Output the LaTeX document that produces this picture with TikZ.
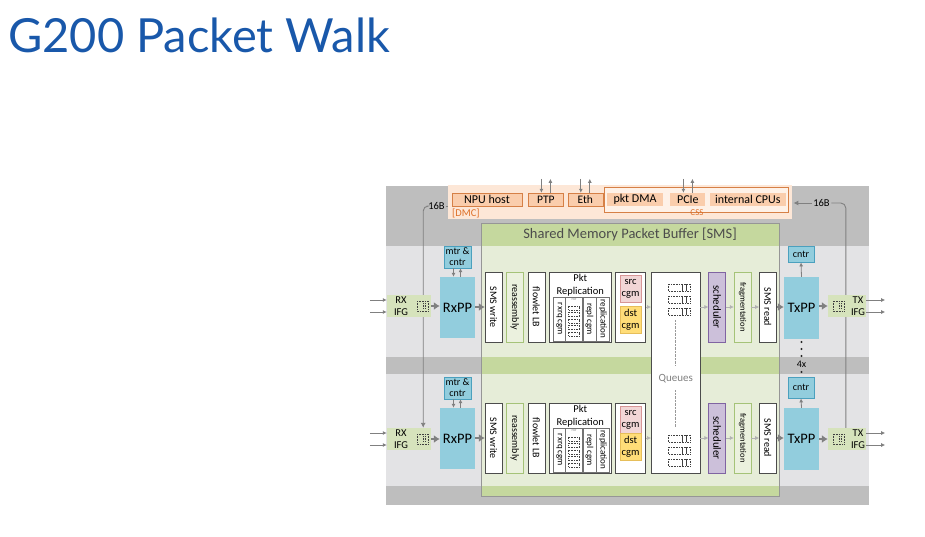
\documentclass[tikz,border=0pt]{standalone}
\usepackage{fontspec}
\setmainfont{Carlito}
\newfontfamily\titlefont{Lato}
\usepackage{graphicx}
\usetikzlibrary{arrows.meta,positioning,calc,backgrounds}

\definecolor{titleblue}{RGB}{25,88,170}
\definecolor{bandgray}{RGB}{190,190,190}
\definecolor{rowgray}{RGB}{227,227,229}
\definecolor{smshead}{RGB}{197,216,158}
\definecolor{smsbody}{RGB}{230,237,216}
\definecolor{smsline}{RGB}{150,150,150}
\definecolor{dmcfill}{RGB}{253,231,215}
\definecolor{orfill}{RGB}{250,205,172}
\definecolor{orline}{RGB}{214,128,70}
\definecolor{ortext}{RGB}{222,112,40}
\definecolor{ppblue}{RGB}{146,205,221}
\definecolor{ppline}{RGB}{75,160,190}
\definecolor{ifggreen}{RGB}{214,227,188}
\definecolor{pinkfill}{RGB}{242,214,214}
\definecolor{pinkline}{RGB}{215,150,150}
\definecolor{yellowfill}{RGB}{255,221,120}
\definecolor{yellowline}{RGB}{230,190,90}
\definecolor{lavfill}{RGB}{204,192,218}
\definecolor{lavline}{RGB}{128,100,162}
\definecolor{palefill}{RGB}{235,241,222}
\definecolor{paleline}{RGB}{165,195,120}
\definecolor{flowgray}{RGB}{128,128,128}

\tikzset{
    orbox/.style={
        rectangle,
        draw=orline,
        fill=orfill,
        minimum height=13pt,
        font=\fontsize{11.5}{13}\selectfont
    },
    orinner/.style={
        rectangle,
        fill=orfill,
        minimum height=13pt,
        font=\fontsize{12}{13}\selectfont
    },
    ppbox/.style={
        rectangle,
        fill=ppblue,
        minimum width=35pt,
        font=\fontsize{14.5}{16}\selectfont
    },
    ctrbox/.style={
        rectangle,
        draw=ppline,
        fill=ppblue,
        align=center,
        font=\fontsize{10}{11}\selectfont
    },
    ifg/.style={
        rectangle,
        fill=ifggreen,
        minimum height=22pt
    },
    ifgtext/.style={
        align=center,
        font=\fontsize{10.5}{12}\selectfont
    },
    unit/.style={
        rectangle,
        draw=black!70,
        fill=white,
        minimum width=17pt,
        minimum height=70pt,
        font=\fontsize{10}{12}\selectfont
    },
    paleunit/.style={draw=paleline, fill=palefill},
    schedunit/.style={draw=lavline, fill=lavfill, font=\fontsize{11}{12}\selectfont},
    col/.style={
        rectangle,
        draw=black!55,
        fill=white,
        minimum height=44pt,
        font=\fontsize{9}{10}\selectfont
    },
    cgmbox/.style={
        rectangle,
        minimum width=21pt,
        minimum height=27pt,
        align=center,
        font=\fontsize{10.5}{12}\selectfont
    },
    flow/.style={
        -{Latex[length=6pt,width=8pt]},
        line width=2.4pt,
        draw=flowgray
    },
    thinflow/.style={
        -{Latex[length=4pt,width=4pt]},
        line width=0.6pt,
        draw=black!30
    },
    tick/.style={
        -{Latex[length=4pt,width=4pt]},
        line width=0.8pt,
        draw=flowgray
    },
    bus/.style={
        line width=0.9pt,
        draw=flowgray,
        rounded corners=5pt
    },
    qdot/.style={
        draw=black!75,
        densely dotted,
        line width=0.6pt
    }
}

\begin{document}
\begin{tikzpicture}[x=1pt, y=-1pt, inner sep=0pt]
    \useasboundingbox (0,0) rectangle (925,536);

    % Title
    \node[anchor=base west, text=titleblue, font=\titlefont\fontsize{47}{47}\selectfont] (title) at (8,52) {G200 Packet Walk};

    % Background bands and SMS area
    \begin{pgfonlayer}{background}
        \fill[bandgray] (386,186) rectangle (869,505);
        \fill[rowgray] (386,246) rectangle (869,357);
        \fill[rowgray] (386,374) rectangle (869,486);
        \fill[smsbody] (481,223) rectangle (779,496);
        \fill[smshead] (481,223) rectangle (779,246);
        \fill[smshead] (481,357) rectangle (779,374);
        \fill[smshead] (481,486) rectangle (779,496);
        \draw[smsline] (481,223) rectangle (779,496);
    \end{pgfonlayer}
    \node[font=\fontsize{14.5}{16}\selectfont, text=black!70] (smstitle) at (630,234.5) {Shared Memory Packet Buffer [SMS]};

    % DMC / CSS strip
    \node[rectangle, fill=dmcfill, anchor=north west, minimum width=344pt, minimum height=34pt] (dmc) at (448,185) {};
    \node[orbox, minimum width=70pt, font=\fontsize{12}{13}\selectfont] (npu) at (487,199.5) {NPU host};
    \node[orbox, minimum width=35pt, right=6pt of npu] (ptp) {PTP};
    \node[orbox, minimum width=35pt, right=4pt of ptp] (eth) {Eth};
    \node[rectangle, draw=orline, fill=dmcfill!60, anchor=north west, minimum width=184pt, minimum height=25pt] (css) at (604,187) {};
    \node[orinner, minimum width=56pt] (pktdma) at (635,199.5) {pkt DMA};
    \node[orinner, minimum width=35pt, right=7pt of pktdma] (pcie) {PCIe};
    \node[orinner, minimum width=76pt, right=4pt of pcie] (cpus) {internal CPUs};
    \node[text=ortext, font=\fontsize{10.5}{12}\selectfont, anchor=west] (dmclbl) at (452,213) {[DMC]};
    \node[text=ortext, font=\fontsize{9}{10}\selectfont] (csslbl) at (697,212.5) {CSS};

    \foreach \n in {ptp,eth,pcie} {
        \draw[tick] ([xshift=-4.5pt]\n.north) ++(0,-14) -- ([xshift=-4.5pt]\n.north);
        \draw[tick] ([xshift=4.5pt]\n.north) -- ++(0,-14);
    }

    % Queues (shared by both pipes)
    \node[unit, anchor=north west, minimum width=49pt, minimum height=201pt] (queues) at (651,272) {};
    \node[font=\fontsize{11}{12}\selectfont, text=black!50] (queuestxt) at ([yshift=-5.5pt]queues.center) {Queues};
    \foreach \qy in {284,296,308,435,447,459} {
        \draw[qdot] (668,\qy) rectangle (690,\qy+7);
        \draw[black!75, line width=0.5pt] (682,\qy) -- (682,\qy+7) (686,\qy) -- (686,\qy+7);
    }
    \draw[black!40, densely dotted] (675,320) -- (675,366) (675,390) -- (675,427);

    % Pipes
    \foreach \r/\dy/\gap/\iy/\ch in {1/0/4/306/16, 2/131/0/439/21} {
        % ingress
        \node[ifg, minimum width=44pt] (rxifg\r) at (409,\iy) {};
        \node[ifgtext] (rxlbl\r) at ([xshift=-8pt]rxifg\r.center) {RX\\IFG};
        \draw[qdot] ($(rxifg\r.east)+(-14,-5)$) rectangle ++(11,10);
        \draw[qdot] ($(rxifg\r.east)+(-8,-3)$) -- ++(0,6) ($(rxifg\r.east)+(-6,-3)$) -- ++(0,6);
        \draw[tick] ([yshift=6pt]rxifg\r.west) ++(-17,0) -- ([yshift=6pt]rxifg\r.west);
        \draw[tick] ([yshift=-6pt]rxifg\r.west) ++(-17,0) -- ([yshift=-6pt]rxifg\r.west);

        \node[ctrbox, minimum width=27pt, minimum height=22pt] (mtr\r) at (457.5,257+\dy) {mtr \&\\cntr};
        \node[ppbox, minimum height=61pt] (rxpp\r) at (457.5,307.5+\dy) {RxPP};
        \draw[tick] ([xshift=-4pt]mtr\r.south) -- ([xshift=-4pt]mtr\r.south |- rxpp\r.north);
        \draw[tick] ([xshift=3pt]rxpp\r.north) -- ([xshift=3pt]rxpp\r.north |- mtr\r.south);

        % SMS blocks
        \node[unit] (smsw\r) at (493.5,307+\dy) {\rotatebox{-90}{SMS write}};
        \node[unit, paleunit, right=4pt of smsw\r] (reasm\r) {\rotatebox{-90}{reassembly}};
        \node[unit, right=4pt of reasm\r] (flowlb\r) {\rotatebox{-90}{flowlet LB}};
        \node[unit, minimum width=62pt, right=4pt of flowlb\r] (pktrep\r) {};
        \node[below=2pt of pktrep\r.north, align=center, font=\fontsize{10.5}{13}\selectfont] (pkttxt\r) {Pkt\\Replication};
        \node[col, minimum width=12pt, anchor=south west] (rxrq\r) at ([xshift=4pt,yshift=1pt]pktrep\r.south west) {\rotatebox{-90}{rxrq cgm}};
        \node[col, minimum width=17pt, right=0pt of rxrq\r] (pktq\r) {};
        \node[col, minimum width=13pt, right=0pt of pktq\r] (replcgm\r) {\rotatebox{-90}{repl cgm}};
        \node[col, minimum width=13pt, right=0pt of replcgm\r] (replq\r) {\rotatebox{-90}{replication}};
        \node[font=\fontsize{4.5}{5}\selectfont, text=black!45, below=1.5pt of pktq\r.north] (rxrtxt\r) {rxr};
        \foreach \k in {0,...,4}
            \draw[qdot] ($(pktq\r.north west)+(3,9+6.5*\k)$) rectangle ++(11,4);

        \node[unit, minimum width=30pt, right=4pt of pktrep\r] (cgm\r) {};
        \node[cgmbox, fill=pinkfill, draw=pinkline, below=3pt of cgm\r.north] (src\r) {src\\cgm};
        \node[cgmbox, fill=yellowfill, draw=yellowline, below=\gap pt of src\r] (dst\r) {dst\\cgm};

        \node[unit, schedunit, anchor=west] (sched\r) at ($(queues.east |- smsw\r)+(8,0)$) {\rotatebox{-90}{scheduler}};
        \node[unit, paleunit, right=8pt of sched\r, font=\fontsize{8.5}{9}\selectfont] (frag\r) {\rotatebox{-90}{fragmentation}};
        \node[unit, right=8pt of frag\r] (smsr\r) {\rotatebox{-90}{SMS read}};

        % egress
        \node[ppbox, minimum height=62pt] (txpp\r) at (801.5,308+\dy) {TxPP};
        \node[ctrbox, anchor=north, minimum width=26pt, minimum height=\ch pt] (cntr\r) at (801,246+\dy) {cntr};
        \draw[tick] (txpp\r.north) -- (cntr\r.south);
        \node[ifg, minimum width=38pt] (txifg\r) at (847,\iy) {};
        \node[ifgtext] (txlbl\r) at ([xshift=11pt]txifg\r.center) {TX\\IFG};
        \draw[qdot] ($(txifg\r.west)+(5,-5)$) rectangle ++(11,10);
        \draw[qdot] ($(txifg\r.west)+(11,-3)$) -- ++(0,6) ($(txifg\r.west)+(13,-3)$) -- ++(0,6);
        \draw[tick] ([yshift=6pt]txifg\r.east) -- ++(19,0);
        \draw[tick] ([yshift=-6pt]txifg\r.east) -- ++(19,0);

        % packet flow
        \draw[flow] (rxifg\r.east) -- (rxifg\r.east -| rxpp\r.west);
        \draw[flow] (rxpp\r.east |- smsw\r) -- (smsw\r.west);
        \draw[thinflow] (cgm\r.east) -- (cgm\r.east -| queues.west);
        \draw[thinflow] (queues.east |- sched\r) -- (sched\r.west);
        \draw[thinflow] (sched\r) -- (frag\r);
        \draw[thinflow] (frag\r) -- (smsr\r);
        \draw[flow] (smsr\r.east) -- (smsr\r.east -| txpp\r.west);
        \draw[flow] (txpp\r.east |- txifg\r) -- (txifg\r.west);
    }

    % 4x
    \foreach \d in {342,349,356,372}
        \fill[black!85] (801.5,\d) circle (1.1pt);
    \node[font=\fontsize{10}{10}\selectfont] (fourx) at (801.5,364.5) {4x};

    % 16B paths
    \node[font=\fontsize{10.5}{12}\selectfont, inner xsep=1.5pt] (b16l) at (436.5,206) {16B};
    \node[font=\fontsize{10.5}{12}\selectfont, inner xsep=1.5pt] (b16r) at (821.5,203) {16B};
    \begin{pgfonlayer}{background}
        \draw[bus] (dmc.west |- b16l) -- (b16l.east);
        \draw[bus, -{Latex[length=5pt,width=5pt]}] (b16l.west) -| ([xshift=-8pt]rxifg2.north east);
        \draw[bus] (b16r.east) -| ([xshift=18pt]txifg2.north west);
    \end{pgfonlayer}
    \draw[bus, -{Latex[length=5pt,width=5pt]}, shorten >=5pt] (b16r.west) -- (css.east |- b16r);
\end{tikzpicture}
\end{document}
